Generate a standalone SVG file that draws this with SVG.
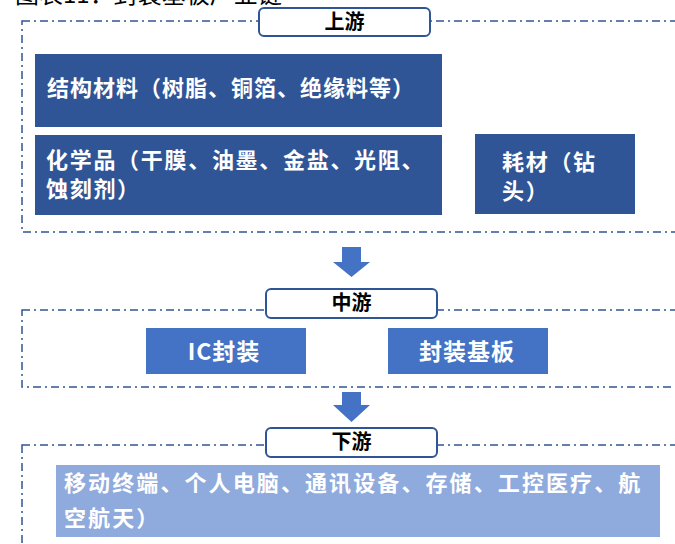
<svg xmlns="http://www.w3.org/2000/svg" width="675" height="544" viewBox="0 0 675 544">
  <style>
    .frame { fill: none; stroke: #2F5597; stroke-width: 1.5; stroke-dasharray: 8 4 2 4; }
    .tag { fill: #ffffff; stroke: #2F5597; stroke-width: 2; }
    .tagtext { font-family: "Noto Sans CJK SC", "Noto Sans", sans-serif; font-size: 20px; font-weight: bold; fill: #000000; text-anchor: middle; }
    .dark { fill: #2F5597; }
    .mid { fill: #4472C4; }
    .light { fill: #8FAADC; }
    .label { font-family: "Noto Sans CJK SC", "Noto Sans", sans-serif; font-size: 22px; font-weight: bold; fill: #ffffff; letter-spacing: 1px; }
    .wide { letter-spacing: 1.7px; }
    .wider { letter-spacing: 2.1px; }
    .center { text-anchor: middle; font-size: 23px; }
    .title { font-family: "Noto Sans CJK SC", "Noto Sans", sans-serif; font-size: 24px; fill: #000000; }
    .arrow { fill: #4472C4; }
  </style>
  <rect width="675" height="544" fill="#ffffff"/>

  <text class="title" x="15" y="3">图表11：封装基板产业链</text>

  <!-- stage frames -->
  <g id="frames">
    <rect class="frame" x="22" y="21" width="700" height="211"/>
    <rect class="frame" x="22" y="310" width="700" height="77"/>
    <rect class="frame" x="22" y="445" width="700" height="150"/>
  </g>

  <!-- connectors between stages -->
  <g id="connectors">
    <path class="arrow" d="M342 247 H361 V262 H370 L351.5 277 L333 262 H342 Z"/>
    <path class="arrow" d="M342 392 H361 V405 H370 L351.5 422 L333 405 H342 Z"/>
  </g>

  <!-- upstream -->
  <g id="tag-upstream">
    <rect class="tag" x="259" y="8" width="171" height="28" rx="5"/>
    <text class="tagtext" x="344.5" y="29">上游</text>
  </g>
  <g id="structural-materials">
    <rect class="dark" x="35" y="54" width="407" height="73"/>
    <text class="label" x="47" y="96">结构材料（树脂、铜箔、绝缘料等）</text>
  </g>
  <g id="chemicals">
    <rect class="dark" x="35" y="135" width="407" height="80"/>
    <text class="label wide" x="46" y="168">化学品（干膜、油墨、金盐、光阻、</text>
    <text class="label wide" x="46" y="197">蚀刻剂）</text>
  </g>
  <g id="consumables">
    <rect class="dark" x="475" y="134" width="160" height="80"/>
    <text class="label wide" x="502" y="170">耗材（钻</text>
    <text class="label wide" x="502" y="199">头）</text>
  </g>

  <!-- midstream -->
  <g id="tag-midstream">
    <rect class="tag" x="266" y="289" width="171" height="29" rx="5"/>
    <text class="tagtext" x="351.5" y="310">中游</text>
  </g>
  <g id="ic-packaging">
    <rect class="mid" x="146" y="328" width="160" height="46"/>
    <text class="label center" x="224" y="360">IC封装</text>
  </g>
  <g id="package-substrate">
    <rect class="mid" x="388" y="328" width="160" height="46"/>
    <text class="label center" x="467" y="360">封装基板</text>
  </g>

  <!-- downstream -->
  <g id="tag-downstream">
    <rect class="tag" x="266" y="428" width="171" height="29" rx="5"/>
    <text class="tagtext" x="351.5" y="449">下游</text>
  </g>
  <g id="applications">
    <rect class="light" x="56" y="465" width="604" height="72"/>
    <text class="label wider" x="64" y="491">移动终端、个人电脑、通讯设备、存储、工控医疗、航</text>
    <text class="label wider" x="64" y="526">空航天）</text>
  </g>
</svg>
